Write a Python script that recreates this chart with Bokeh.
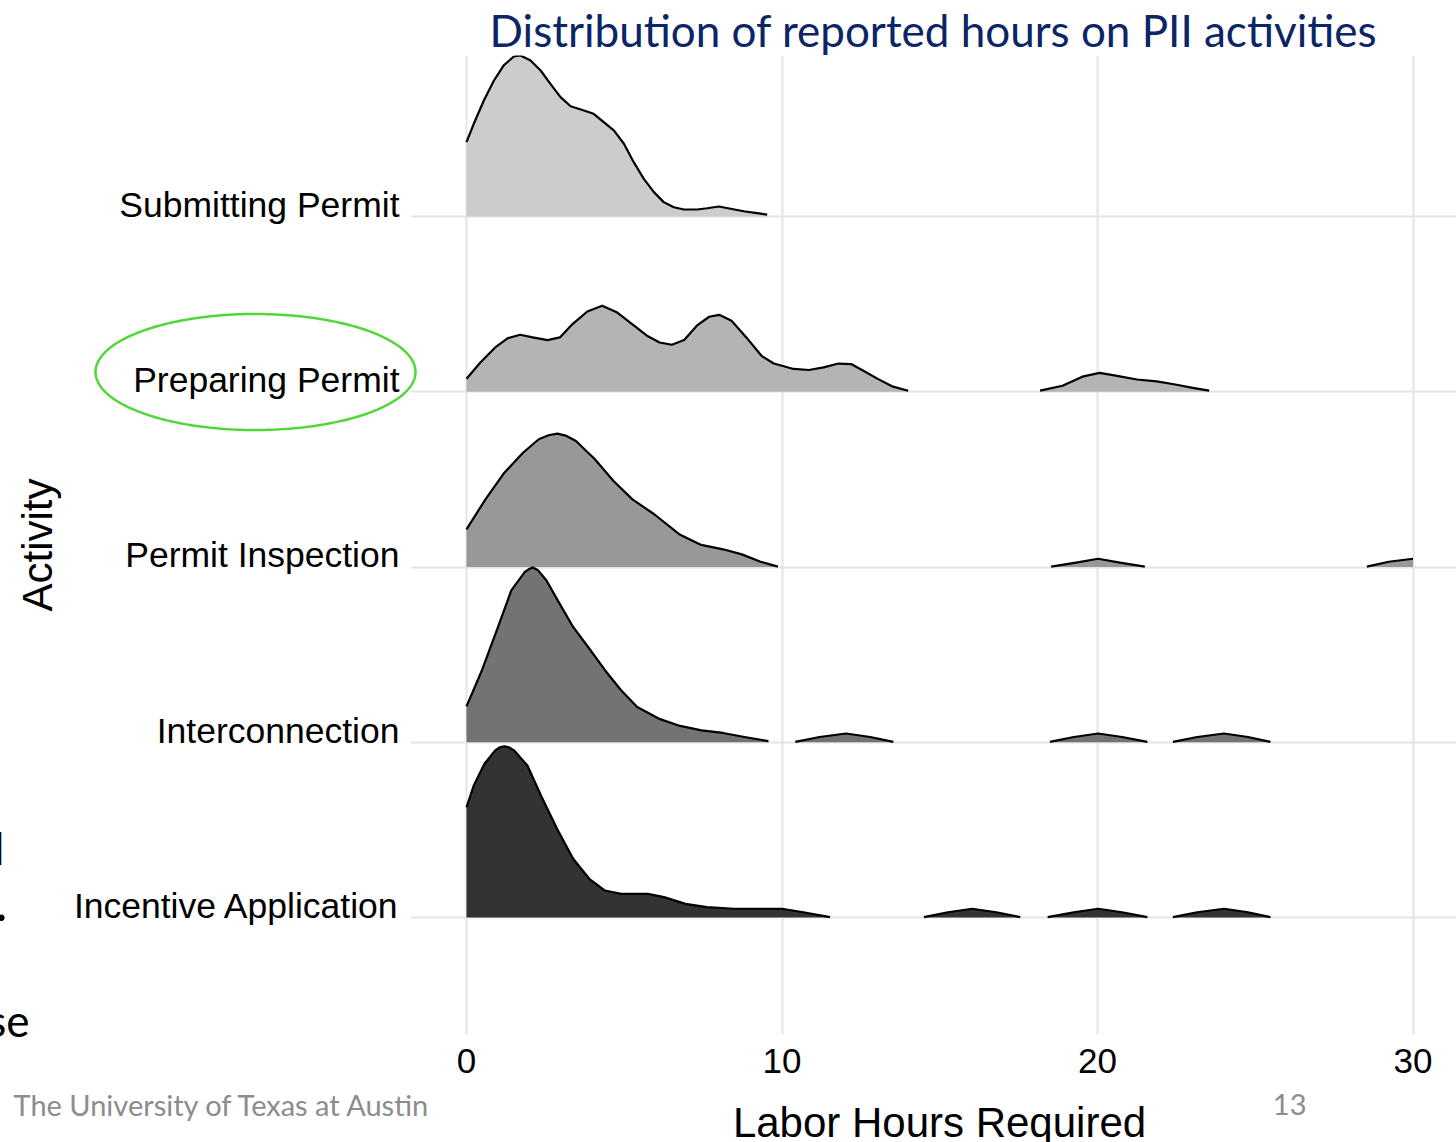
from bokeh.plotting import figure
from bokeh.models import Range1d, FixedTicker, CustomJSTickFormatter, ColumnDataSource
from bokeh.embed import file_html
from bokeh.resources import INLINE
from bokeh.core.properties import value
import numpy as np

# ---------------- data ----------------
activities = ["Incentive Application", "Interconnection", "Permit Inspection",
              "Preparing Permit", "Submitting Permit"]          # bottom -> top
fills = ["#333333", "#737373", "#989898", "#b4b4b4", "#cccccc"]
x_ticks = [0, 10, 20, 30]

# ridge heights (relative density, 1.0 = one row)
sub_x = [0.00, 0.23, 0.55, 0.87, 1.18, 1.50, 1.71, 2.03, 2.35, 2.66, 2.98, 3.30, 3.72, 4.03, 4.35,
         4.67, 4.99, 5.30, 5.62, 5.94, 6.25, 6.57, 6.89, 7.31, 7.63, 8.00, 8.37, 8.79, 9.21, 9.53]
sub_h = [0.424, 0.529, 0.662, 0.776, 0.862, 0.913, 0.919, 0.890, 0.833, 0.757, 0.681, 0.629, 0.605,
         0.586, 0.538, 0.491, 0.415, 0.310, 0.215, 0.139, 0.082, 0.053, 0.040, 0.040, 0.047, 0.057,
         0.044, 0.030, 0.019, 0.011]

prep_x1 = [0.00, 0.44, 0.91, 1.31, 1.70, 2.10, 2.57, 2.96, 3.36, 3.83, 4.30, 4.78, 5.25, 5.72, 6.12,
           6.51, 6.90, 7.30, 7.69, 8.01, 8.40, 8.87, 9.35, 9.74, 10.37, 10.85, 11.32, 11.79, 12.19,
           12.58, 13.05, 13.52, 14.00]
prep_h1 = [0.074, 0.167, 0.253, 0.306, 0.325, 0.310, 0.295, 0.310, 0.386, 0.458, 0.491, 0.452, 0.386,
           0.320, 0.281, 0.268, 0.295, 0.377, 0.428, 0.439, 0.405, 0.310, 0.205, 0.161, 0.130, 0.124,
           0.139, 0.161, 0.158, 0.120, 0.072, 0.029, 0.006]
prep_x2 = [18.18, 18.89, 19.52, 20.07, 20.62, 21.25, 21.88, 22.51, 23.06, 23.54]
prep_h2 = [0.006, 0.034, 0.086, 0.108, 0.091, 0.070, 0.059, 0.040, 0.021, 0.006]

insp_x1 = [0.00, 0.60, 1.20, 1.79, 2.29, 2.60, 2.88, 3.17, 3.47, 4.07, 4.66, 5.26, 5.95, 6.74, 7.44,
           8.13, 8.73, 9.32, 9.87]
insp_h1 = [0.215, 0.386, 0.538, 0.652, 0.729, 0.752, 0.761, 0.748, 0.719, 0.615, 0.491, 0.386, 0.301,
           0.187, 0.126, 0.101, 0.072, 0.030, 0.002]
insp_x2 = [18.53, 19.32, 20.02, 20.71, 21.50]
insp_h2 = [0.002, 0.025, 0.047, 0.025, 0.002]
insp_x3 = [28.54, 29.23, 30.00]
insp_h3 = [0.002, 0.030, 0.047]

inter_x1 = [0.00, 0.49, 1.00, 1.42, 1.85, 2.00, 2.10, 2.27, 2.53, 2.95, 3.38, 3.89, 4.39, 4.90, 5.41,
            6.09, 6.77, 7.45, 8.13, 8.81, 9.57]
inter_h1 = [0.205, 0.411, 0.658, 0.867, 0.972, 0.990, 0.997, 0.981, 0.924, 0.791, 0.658, 0.535, 0.411,
            0.297, 0.201, 0.135, 0.093, 0.068, 0.053, 0.030, 0.006]
inter_x2 = [10.42, 11.19, 12.03, 12.80, 13.53]
inter_h2 = [0.002, 0.030, 0.050, 0.030, 0.002]
inter_x3 = [18.49, 19.25, 20.02, 20.78, 21.58]
inter_h3 = [0.002, 0.030, 0.050, 0.030, 0.002]
inter_x4 = [22.39, 23.16, 24.01, 24.77, 25.48]
inter_h4 = [0.002, 0.030, 0.050, 0.030, 0.002]

inc_x1 = [0.00, 0.23, 0.57, 0.91, 1.05, 1.20, 1.35, 1.51, 1.93, 2.36, 2.87, 3.38, 3.89, 4.39, 4.90,
          5.75, 6.26, 6.94, 7.62, 8.47, 10.00, 10.68, 11.52]
inc_h1 = [0.629, 0.753, 0.877, 0.953, 0.971, 0.977, 0.971, 0.953, 0.867, 0.696, 0.506, 0.335, 0.221,
          0.154, 0.135, 0.135, 0.116, 0.078, 0.059, 0.050, 0.050, 0.030, 0.002]
inc_x2 = [14.50, 15.26, 16.03, 16.79, 17.55]
inc_h2 = [0.002, 0.030, 0.050, 0.030, 0.002]
inc_x3 = [18.42, 19.25, 20.02, 20.78, 21.58]
inc_h3 = [0.002, 0.030, 0.050, 0.030, 0.002]
inc_x4 = [22.39, 23.16, 24.01, 24.77, 25.48]
inc_h4 = [0.002, 0.030, 0.050, 0.030, 0.002]

ridges = {
    "Submitting Permit": [(sub_x, sub_h)],
    "Preparing Permit": [(prep_x1, prep_h1), (prep_x2, prep_h2)],
    "Permit Inspection": [(insp_x1, insp_h1), (insp_x2, insp_h2), (insp_x3, insp_h3)],
    "Interconnection": [(inter_x1, inter_h1), (inter_x2, inter_h2), (inter_x3, inter_h3), (inter_x4, inter_h4)],
    "Incentive Application": [(inc_x1, inc_h1), (inc_x2, inc_h2), (inc_x3, inc_h3), (inc_x4, inc_h4)],
}

title_text = "Distribution of reported hours on PII activities"
x_title = "Labor Hours Required"
y_title = "Activity"
footer_left = "The University of Texas at Austin"
footer_right = "13"

# ---------------- layout helpers (page px -> data) ----------------
X0, PXH = 466.0, 31.55      # page x of 0 h, px per hour
Y1, PXR = 917.0, 175.25     # page y of first row, px per row
def px2x(px):
    return (np.asarray(px, dtype=float) - X0) / PXH
def py2y(py):
    return 1 + (Y1 - np.asarray(py, dtype=float)) / PXR

W, H = 1456, 1142
p = figure(width=W, height=H, output_backend="svg", toolbar_location=None,
           x_range=Range1d(float(px2x(410)), float(px2x(1456))),
           y_range=Range1d(float(py2y(1034)), float(py2y(55))),
           min_border_left=410, min_border_right=0, min_border_top=55, min_border_bottom=108,
           title=title_text)
p.outline_line_color = None
p.background_fill_color = "white"
p.border_fill_color = "white"

p.title.text_font = "Lato"
p.title.text_font_size = "44px"
p.title.text_font_style = "normal"
p.title.text_color = "#0b2566"
p.title.align = "center"
p.title.offset = -8
p.title.standoff = 0

# grids
p.xgrid.ticker = FixedTicker(ticks=x_ticks)
p.ygrid.ticker = FixedTicker(ticks=[1, 2, 3, 4, 5])
for g in (p.xgrid, p.ygrid):
    g.grid_line_color = "#e4e4e4"
    g.grid_line_width = 2
    g.minor_grid_line_color = None

# axes
xa = p.xaxis[0]
xa.ticker = FixedTicker(ticks=x_ticks)
xa.axis_line_color = None
xa.major_tick_line_color = None
xa.minor_tick_line_color = None
xa.major_tick_out = 0
xa.minor_tick_out = 0
xa.major_label_text_font = "Liberation Sans"
xa.major_label_text_font_size = "35px"
xa.major_label_text_color = "black"
xa.major_label_standoff = 14

ya = p.yaxis[0]
label_offset = 0.066
ya.ticker = FixedTicker(ticks=[i + 1 + label_offset for i in range(len(activities))])
ya.formatter = CustomJSTickFormatter(args=dict(names=activities),
                                     code="return names[Math.round(tick) - 1];")
ya.axis_line_color = None
ya.major_tick_line_color = None
ya.minor_tick_line_color = None
ya.major_tick_out = 0
ya.minor_tick_out = 0
ya.major_label_text_font = "Liberation Sans"
ya.major_label_text_font_size = "35.5px"
ya.major_label_text_color = "black"
ya.major_label_standoff = 11
ya.axis_label = y_title
ya.axis_label_text_font = "Liberation Sans"
ya.axis_label_text_font_size = "42px"
ya.axis_label_text_font_style = "normal"
ya.axis_label_text_color = "black"
ya.axis_label_standoff = 10

# ridges: top row first so lower rows overlap upper ones
for idx in range(len(activities) - 1, -1, -1):
    name = activities[idx]
    base = idx + 1
    for xs, hs in ridges[name]:
        top = [base + h for h in hs]
        src = ColumnDataSource(dict(x=xs, y1=[base] * len(xs), y2=top))
        p.varea(x="x", y1="y1", y2="y2", source=src, fill_color=fills[idx], fill_alpha=1.0)
        p.line(x="x", y="y2", source=src, line_color="black", line_width=2.2,
               line_join="round")

# highlight ellipse around "Preparing Permit" (drawn over the border area)
t = np.linspace(0, 2 * np.pi, 240)
cx, cy, rx, ry = 255.0, 371.5, 160.0, 58.0
p.line(x=list(px2x(cx + rx * np.cos(t))), y=list(py2y(cy + ry * np.sin(t))),
       line_color="#52d63a", line_width=2.5, level="overlay")

# x-axis title and slide texts outside the plotting frame
def add_text(px, py, txt, font, size, color, align):
    p.text(x=[float(px2x(px))], y=[float(py2y(py))], text=[txt], text_font=value(font),
           text_font_size=value(size), text_color=color, text_align=align,
           text_baseline="alphabetic", level="overlay")

add_text(939, 1122, x_title, "Liberation Sans", "42px", "black", "center")
add_text(13, 1104, footer_left, "Lato", "29px", "#8c8c8c", "left")
add_text(1306, 1104, footer_right, "Lato", "29px", "#8c8c8c", "right")
add_text(29, 1019, "se", "Lato", "44px", "black", "right")
add_text(4, 847, "l", "Lato", "44px", "black", "right")
add_text(7, 901, ".", "Lato", "52px", "black", "right")

open("out.html", "w").write(file_html(p, INLINE))
